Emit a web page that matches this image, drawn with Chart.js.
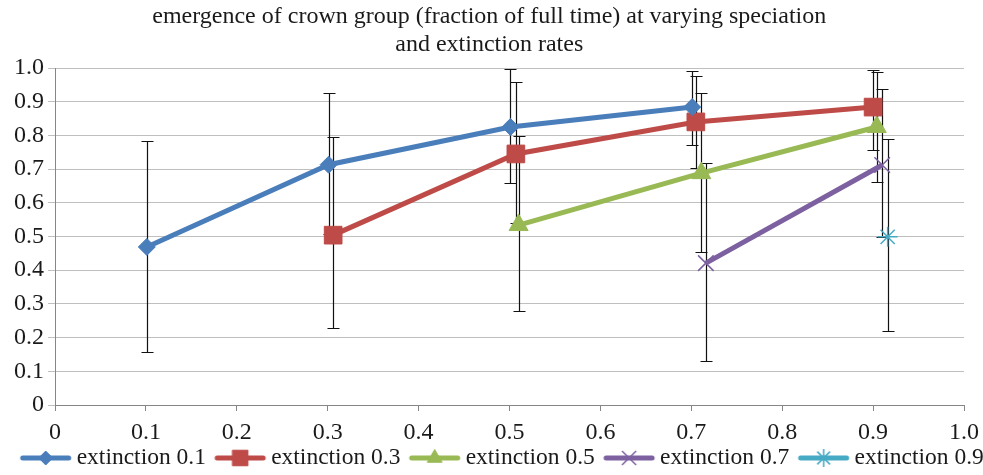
<!DOCTYPE html>
<html>
<head>
<meta charset="utf-8">
<script src="https://cdn.jsdelivr.net/npm/chart.js@4/dist/chart.umd.min.js"></script>
<style>
html,body{margin:0;padding:0;background:#fff;}
#wrap{width:983px;height:475px;position:relative;}
</style>
</head>
<body>
<div id="wrap"><canvas id="c"></canvas></div>
<script>
// ---- data ----
const titleLines = ['emergence of crown group (fraction of full time) at varying speciation', 'and extinction rates'];
const seriesNames = ['extinction 0.1', 'extinction 0.3', 'extinction 0.5', 'extinction 0.7', 'extinction 0.9'];

const x01 = [0.101, 0.301, 0.501, 0.701];
const y01 = [0.469, 0.713, 0.825, 0.884];
const lo01 = [0.157, 0.507, 0.659, 0.772];
const hi01 = [0.783, 0.926, 0.997, 0.991];

const x03 = [0.306, 0.507, 0.705, 0.900];
const y03 = [0.504, 0.745, 0.840, 0.884];
const lo03 = [0.228, 0.540, 0.703, 0.757];
const hi03 = [0.795, 0.958, 0.975, 0.994];

const x05 = [0.510, 0.711, 0.904];
const y05 = [0.534, 0.688, 0.825];
const lo05 = [0.279, 0.454, 0.662];
const hi05 = [0.798, 0.926, 0.988];

const x07 = [0.716, 0.910];
const y07 = [0.421, 0.712];
const lo07 = [0.130, 0.498];
const hi07 = [0.718, 0.938];

const x09 = [0.916];
const y09 = [0.499];
const lo09 = [0.220];
const hi09 = [0.789];

const xTicks = [0, 0.1, 0.2, 0.3, 0.4, 0.5, 0.6, 0.7, 0.8, 0.9, 1.0];
const yTicks = [0, 0.1, 0.2, 0.3, 0.4, 0.5, 0.6, 0.7, 0.8, 0.9, 1.0];

// ---- styles ----
const colors = ['#4A7EBB', '#BE4B48', '#98B954', '#7D60A0', '#46AAC5'];
const markerStyles = ['rectRot', 'rect', 'triangle', 'crossRot', 'star'];
const markerRadius = [8.5, 12.5, 11, 11, 10];
const legendMarkerRadius = [7, 11, 8.5, 10, 9];
const FONT = "'Liberation Serif', 'Times New Roman', serif";
const TEXT = '#1a1a1a';

const xs = [x01, x03, x05, x07, x09];
const ys = [y01, y03, y05, y07, y09];
const los = [lo01, lo03, lo05, lo07, lo09];
const his = [hi01, hi03, hi05, hi07, hi09];

function pts(xa, ya) { return xa.map((v, i) => ({x: v, y: ya[i]})); }
const isLineMarker = s => s === 'crossRot' || s === 'star';

const LEG_PAD = 1.25, LEG_BOX = 53.5 - LEG_PAD, ICON_W = 100, ICON_OFF = LEG_BOX / 2 + 5.75;
function legendIcon(i) {
  const c = document.createElement('canvas');
  c.width = ICON_W; c.height = 24;
  const ctx = c.getContext('2d');
  ctx.strokeStyle = colors[i];
  ctx.lineWidth = 5;
  ctx.lineCap = 'round';
  ctx.beginPath(); ctx.moveTo(ICON_OFF + 2, 12); ctx.lineTo(ICON_OFF + 48, 12); ctx.stroke();
  ctx.lineCap = 'butt';
  ctx.fillStyle = colors[i];
  ctx.strokeStyle = colors[i];
  const lm = isLineMarker(markerStyles[i]);
  ctx.lineWidth = lm ? 1.5 : 1;
  Chart.helpers.drawPoint(ctx, {pointStyle: markerStyles[i], radius: legendMarkerRadius[i], rotation: 0, borderWidth: ctx.lineWidth}, ICON_OFF + 25, 12);
  return c;
}

const datasets = seriesNames.map((n, i) => ({
  label: n,
  data: pts(xs[i], ys[i]),
  borderColor: colors[i],
  backgroundColor: colors[i],
  borderWidth: 5,
  pointStyle: markerStyles[i],
  pointRadius: markerRadius[i],
  pointHoverRadius: markerRadius[i],
  pointBackgroundColor: colors[i],
  pointBorderColor: colors[i],
  pointBorderWidth: isLineMarker(markerStyles[i]) ? 1.5 : 1,
  tension: 0,
  fill: false
}));

const errorBars = {
  id: 'errorBars',
  beforeDatasetsDraw(chart) {
    const ctx = chart.ctx;
    const yS = chart.scales.y;
    ctx.save();
    ctx.strokeStyle = '#111';
    ctx.lineWidth = 1.2;
    chart.data.datasets.forEach((ds, i) => {
      const meta = chart.getDatasetMeta(i);
      meta.data.forEach((el, j) => {
        const x = Math.round(el.x) + 0.5;
        const yl = Math.round(yS.getPixelForValue(los[i][j])) + 0.5;
        const yh = Math.round(yS.getPixelForValue(his[i][j])) + 0.5;
        ctx.beginPath();
        ctx.moveTo(x, yl); ctx.lineTo(x, yh);
        ctx.moveTo(x - 6, yl); ctx.lineTo(x + 6, yl);
        ctx.moveTo(x - 6, yh); ctx.lineTo(x + 6, yh);
        ctx.stroke();
      });
    });
    ctx.restore();
  }
};

const legendShift = {
  id: 'legendShift',
  afterLayout(chart) {
    const l = chart.legend;
    if (l) { l.left += 9; l.right += 9; }
  }
};

const fmt = v => (Math.abs(v) < 1e-9 ? '0' : v.toFixed(1));

new Chart(document.getElementById('c'), {
  type: 'line',
  data: {datasets},
  plugins: [errorBars, legendShift],
  options: {
    responsive: true,
    maintainAspectRatio: false,
    animation: false,
    layout: {padding: {left: 0, right: 4.5, top: 0, bottom: -4.75}},
    plugins: {
      title: {
        display: true,
        text: titleLines,
        color: TEXT,
        font: {family: FONT, size: 24, weight: 'normal', lineHeight: 28 / 24},
        padding: {top: 3, bottom: 9}
      },
      legend: {
        position: 'bottom',
        labels: {
          usePointStyle: true,
          pointStyleWidth: LEG_BOX,
          padding: LEG_PAD,
          color: TEXT,
          font: {family: FONT, size: 23.5},
          generateLabels(chart) {
            return seriesNames.map((n, i) => ({
              text: n, datasetIndex: i, pointStyle: legendIcon(i),
              fillStyle: colors[i], strokeStyle: colors[i], lineWidth: 0, hidden: false, fontColor: TEXT
            }));
          }
        }
      },
      tooltip: {enabled: false}
    },
    scales: {
      x: {
        type: 'linear',
        min: 0, max: 1.0,
        afterBuildTicks(ax) { ax.ticks = xTicks.map(v => ({value: v})); },
        afterFit(ax) { ax.height = 40; ax.paddingRight = 19; },
        ticks: {callback: fmt, color: TEXT, font: {family: FONT, size: 24, lineHeight: 1.0}, padding: 10, maxRotation: 0, autoSkip: false},
        grid: {drawOnChartArea: false, drawTicks: true, tickLength: 6, color: '#868686'},
        border: {display: true, color: '#868686', width: 1}
      },
      y: {
        type: 'linear',
        min: 0, max: 1.0,
        afterBuildTicks(ax) { ax.ticks = yTicks.map(v => ({value: v})); },
        afterFit(ax) { ax.width = 55; },
        ticks: {callback: fmt, color: TEXT, font: {family: FONT, size: 24}, padding: 4, autoSkip: false},
        grid: {drawOnChartArea: true, drawTicks: true, tickLength: 7, color: '#BFBFBF'},
        border: {display: true, color: '#868686', width: 1}
      }
    }
  }
});
</script>
</body>
</html>
